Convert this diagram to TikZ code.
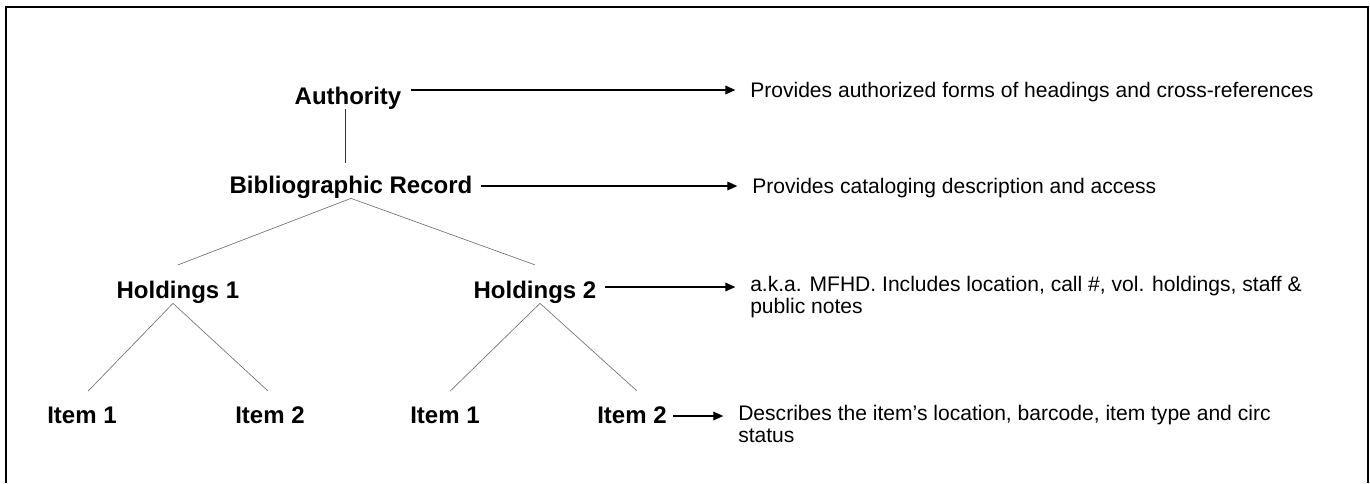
\documentclass[tikz,border=0pt]{standalone}
\usepackage{fontspec}
\setmainfont{Liberation Sans}
\usetikzlibrary{arrows.meta}
\tikzstyle{recnode} = [inner sep=0pt, anchor=base,
font=\fontsize{18}{21}\selectfont\bfseries]
\tikzstyle{notenode} = [inner sep=0pt, anchor=base west,
align=left,
font=\fontsize{15.8}{16}\selectfont]
\tikzstyle{branch} = [draw=black!55, line width=0.5pt]
\tikzstyle{arrow} = [line width=0.8pt, shorten >=11pt,
-{Triangle[length=7.5pt,width=6.5pt]}]
\tikzstyle{frame} = [line width=0.8pt]

\begin{document}
\begin{tikzpicture}[x=0.75pt, y=-0.75pt]
\useasboundingbox (0,0) rectangle (1370,483);

% frame, open at the bottom
\coordinate (fbl) at (6,483);
\coordinate (ftl) at (6,7);
\coordinate (ftr) at (1368,7);
\coordinate (fbr) at (1368,483);
\draw [frame] (fbl) -- (ftl) -- (ftr) -- (fbr);

\node (auth) [recnode] at (348,104) {Authority};
\node (bib) [recnode] at (351,193) {Bibliographic Record};
\node (hold1) [recnode] at (178,298) {Holdings 1};
\node (hold2) [recnode] at (535,298) {Holdings 2};
\node (item11) [recnode] at (82,423) {Item 1};
\node (item12) [recnode] at (270,423) {Item 2};
\node (item21) [recnode] at (445,423) {Item 1};
\node (item22) [recnode] at (632,423) {Item 2};

% notes: a two-line node sits on its last baseline
\node (authnote) [notenode] at (750,97) {Provides authorized forms of headings and cross-references};
\node (bibnote) [notenode] at (752,193) {Provides cataloging description and access};
\node (holdnote) [notenode] at (750,313) {a.k.a. MFHD. Includes location, call \#, vol. holdings, staff \&\\ public notes};
\node (itemnote) [notenode] at (738,442) {Describes the item’s location, barcode, item type and circ\\ status};

\draw [branch, draw=black!80] ([xshift=-2.25pt]auth.south) -- ++(0,54);
\draw [branch] (bib.south) -- ([yshift=11.6pt]hold1.north);
\draw [branch] (bib.south) -- ([yshift=11.6pt]hold2.north);
\draw [branch] ([xshift=-3.75pt]hold1.south) -- ([shift={(6,-15)}]item11.north);
\draw [branch] ([xshift=-3.75pt]hold1.south) -- ([shift={(-2,-15)}]item12.north);
\draw [branch] ([xshift=3.75pt]hold2.south) -- ([shift={(5,-15)}]item21.north);
\draw [branch] ([xshift=3.75pt]hold2.south) -- ([shift={(5,-15)}]item22.north);

\coordinate (authout) at ([shift={(9,-14)}]auth.base east);
\coordinate (bibout) at ([shift={(8,-7)}]bib.base east);
\coordinate (holdout) at ([shift={(8,-11)}]hold2.base east);
\coordinate (itemout) at ([shift={(6,-7)}]item22.base east);

\draw [arrow] (authout) -- (authout -| authnote.west);
\draw [arrow] (bibout) -- (bibout -| bibnote.west);
\draw [arrow] (holdout) -- (holdout -| holdnote.west);
\draw [arrow] (itemout) -- (itemout -| itemnote.west);

\end{tikzpicture}
\end{document}
